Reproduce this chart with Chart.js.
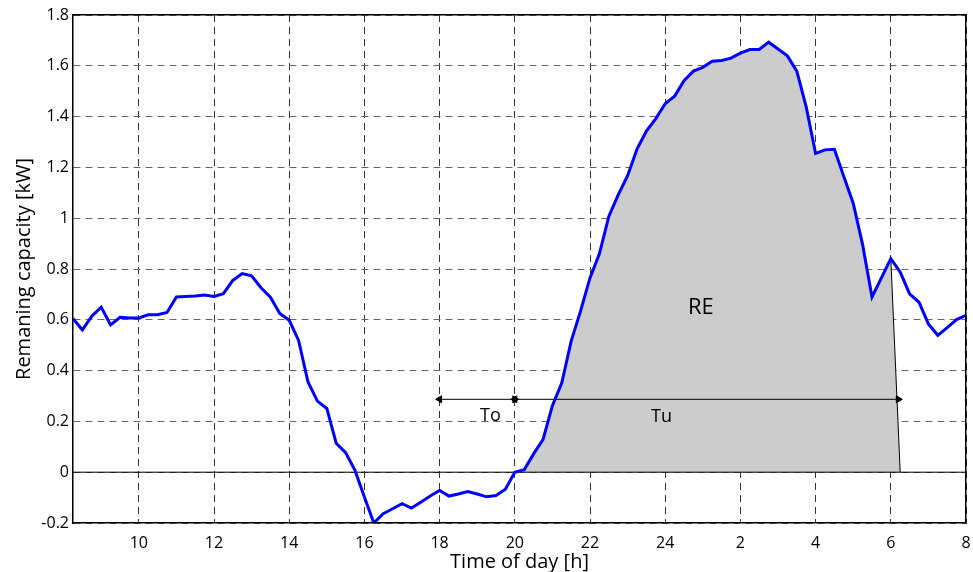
<!DOCTYPE html>
<html>
<head>
<meta charset="utf-8">
<script src="https://cdn.jsdelivr.net/npm/chart.js@4.4.1/dist/chart.umd.min.js"></script>
<style>
  body { margin: 0; background: #fff; }
  #wrap { width: 973px; height: 572px; }
</style>
</head>
<body>
<div id="wrap"><canvas id="capacityChart"></canvas></div>
<script>
// Time of day in hours (values past 24 belong to the next morning)
const hours = [
  8.25, 8.5, 8.75, 9, 9.25, 9.5, 9.75, 10, 10.25, 10.5, 10.75, 11,
  11.25, 11.5, 11.75, 12, 12.25, 12.5, 12.75, 13, 13.25, 13.5, 13.75, 14,
  14.25, 14.5, 14.75, 15, 15.25, 15.5, 15.75, 16, 16.25, 16.5, 16.75, 17,
  17.25, 17.5, 17.75, 18, 18.25, 18.5, 18.75, 19, 19.25, 19.5, 19.75, 20,
  20.25, 20.5, 20.75, 21, 21.25, 21.5, 21.75, 22, 22.25, 22.5, 22.75, 23,
  23.25, 23.5, 23.75, 24, 24.25, 24.5, 24.75, 25, 25.25, 25.5, 25.75, 26,
  26.25, 26.5, 26.75, 27, 27.25, 27.5, 27.75, 28, 28.25, 28.5, 28.75, 29,
  29.25, 29.5, 29.75, 30, 30.25, 30.5, 30.75, 31, 31.25, 31.5, 31.75, 32
];

// Remaining capacity [kW]
const capacity = [
  0.605, 0.560, 0.614, 0.650, 0.580, 0.610, 0.607, 0.607, 0.620, 0.620, 0.629, 0.690,
  0.692, 0.694, 0.698, 0.692, 0.703, 0.755, 0.782, 0.773, 0.726, 0.689, 0.625, 0.598,
  0.519, 0.355, 0.280, 0.251, 0.114, 0.077, 0.007, -0.098, -0.200, -0.163, -0.144, -0.124,
  -0.141, -0.118, -0.094, -0.072, -0.094, -0.086, -0.076, -0.086, -0.097, -0.092, -0.067, 0.000,
  0.010, 0.072, 0.128, 0.262, 0.352, 0.516, 0.635, 0.765, 0.860, 1.007, 1.092, 1.167,
  1.272, 1.343, 1.392, 1.451, 1.480, 1.541, 1.579, 1.594, 1.618, 1.621, 1.630, 1.650,
  1.664, 1.664, 1.693, 1.666, 1.639, 1.579, 1.438, 1.255, 1.269, 1.271, 1.164, 1.059,
  0.896, 0.690, 0.765, 0.841, 0.788, 0.702, 0.669, 0.584, 0.539, 0.569, 0.601, 0.617
];

// RE area: from the start of the surplus until 6 h next morning, closed at reEnd
const reStart = 20;
const reStop = 30;
const reEnd = 30.25;

// Arrows To and Tu
const toSpan = [18, 20];
const tuSpan = [20, 30.2];
const arrowLevel = 0.287;

// Text notes
const noteText = ['To', 'Tu', 'RE'];
const noteX = [19.35, 23.9, 24.95];
const noteY = [0.222, 0.216, 0.649];
const noteSize = [18, 18, 22];

const xTicks = [10, 12, 14, 16, 18, 20, 22, 24, 26, 28, 30, 32];
const yTicks = [-0.2, 0, 0.2, 0.4, 0.6, 0.8, 1, 1.2, 1.4, 1.6, 1.8];
const xRange = [8.25, 32];

const FONT = "'Open Sans', sans-serif";

const curve = hours.map((h, i) => ({ x: h, y: capacity[i] }));
const reArea = curve.filter(p => p.x >= reStart && p.x <= reStop).concat([{ x: reEnd, y: 0 }]);

function arrow(span) {
  return {
    data: span.map(x => ({ x: x, y: arrowLevel })),
    borderColor: '#000',
    borderWidth: 1,
    pointStyle: 'triangle',
    pointRadius: 4,
    pointRotation: [-90, 90],
    pointBackgroundColor: '#000',
    pointBorderColor: '#000',
    pointBorderWidth: 1,
    fill: false,
    order: 1
  };
}

const notesPlugin = {
  id: 'notes',
  afterDatasetsDraw(chart) {
    const { ctx, scales } = chart;
    ctx.save();
    ctx.fillStyle = '#000';
    ctx.textAlign = 'center';
    ctx.textBaseline = 'middle';
    noteText.forEach((t, i) => {
      ctx.font = noteSize[i] + 'px ' + FONT;
      ctx.fillText(t, scales.x.getPixelForValue(noteX[i]), scales.y.getPixelForValue(noteY[i]));
    });
    ctx.restore();
  }
};

const ctx = document.getElementById('capacityChart').getContext('2d');
new Chart(ctx, {
  type: 'line',
  data: {
    datasets: [
      {
        label: 'Remaining capacity',
        data: curve,
        borderColor: '#0000ff',
        borderWidth: 3,
        pointRadius: 0,
        tension: 0,
        fill: false,
        order: 0
      },
      arrow(toSpan),
      arrow(tuSpan),
      {
        label: 'zero',
        data: xRange.map(x => ({ x: x, y: 0 })),
        borderColor: '#000',
        borderWidth: 1,
        pointRadius: 0,
        fill: false,
        order: 2
      },
      {
        label: 'RE',
        data: reArea,
        borderColor: '#000',
        borderWidth: 1,
        backgroundColor: '#cccccc',
        pointRadius: 0,
        tension: 0,
        fill: 'origin',
        order: 3
      }
    ]
  },
  options: {
    responsive: true,
    maintainAspectRatio: false,
    animation: false,
    events: [],
    layout: { padding: { top: 15, right: 7, left: 0, bottom: 0 } },
    plugins: {
      legend: { display: false },
      tooltip: { enabled: false }
    },
    scales: {
      x: {
        type: 'linear',
        min: xRange[0],
        max: xRange[1],
        afterBuildTicks: axis => { axis.ticks = xTicks.map(v => ({ value: v })); },
        afterFit: axis => {
          axis.height = 49;
          axis.paddingLeft = 0;
          axis.paddingRight = 0;
        },
        grid: { color: '#333', lineWidth: 1, drawTicks: false },
        border: { color: '#000', width: 1.5, dash: [7, 5], z: 1 },
        ticks: {
          color: '#000',
          padding: 11,
          maxRotation: 0,
          font: { family: FONT, size: 16 },
          callback: v => (v > 24 ? v - 24 : v)
        },
        title: {
          display: true,
          text: 'Time of day [h]',
          color: '#000',
          font: { family: FONT, size: 20, lineHeight: 1 },
          padding: { top: 0, bottom: 0 }
        }
      },
      y: {
        min: -0.2,
        max: 1.8,
        afterBuildTicks: axis => { axis.ticks = yTicks.map(v => ({ value: v })); },
        afterFit: axis => { axis.width = 73; },
        grid: { color: '#666', lineWidth: 1, drawTicks: false },
        border: { color: '#000', width: 1.5, dash: [7, 5], z: 1 },
        ticks: {
          color: '#000',
          padding: 4,
          font: { family: FONT, size: 16 },
          callback: v => Math.round(v * 10) / 10
        },
        title: {
          display: true,
          text: 'Remaning capacity [kW]',
          color: '#000',
          font: { family: FONT, size: 20 },
          padding: { top: 12, bottom: 0 }
        }
      },
      x2: {
        type: 'linear',
        position: 'top',
        min: xRange[0],
        max: xRange[1],
        afterFit: axis => { axis.height = 0; },
        grid: { display: false },
        ticks: { display: false },
        border: { color: '#000', width: 1.5, z: 1 }
      },
      y2: {
        position: 'right',
        min: -0.2,
        max: 1.8,
        afterFit: axis => { axis.width = 0; },
        grid: { display: false },
        ticks: { display: false },
        border: { color: '#000', width: 1.5, z: 1 }
      }
    }
  },
  plugins: [notesPlugin]
});
</script>
</body>
</html>
